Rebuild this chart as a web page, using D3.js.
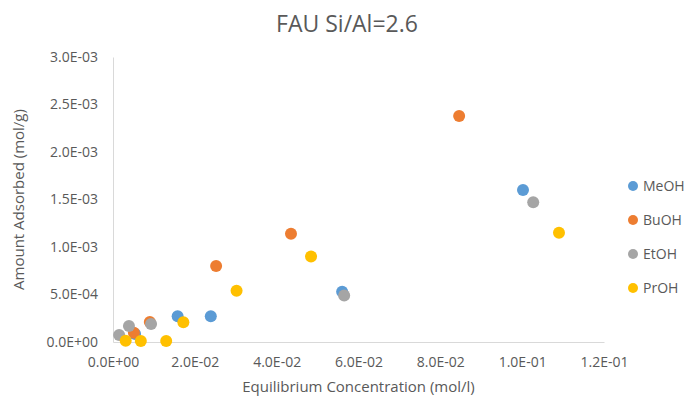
<!DOCTYPE html>
<html>
<head>
<meta charset="utf-8">
<script src="https://cdn.jsdelivr.net/npm/d3@7"></script>
<style>
  body { margin: 0; background: #fff; }
  svg { font-family: "Open Sans", "Noto Sans", sans-serif; }
</style>
</head>
<body>
<div id="chart"></div>
<script>
// series
var seriesNames = ["MeOH", "BuOH", "EtOH", "PrOH"];
var seriesColors = ["#5B9BD5", "#ED7D31", "#A5A5A5", "#FFC000"];

var meohX = [0.0054, 0.0158, 0.0239, 0.0560, 0.1002];
var meohY = [8.4e-5, 2.7e-4, 2.7e-4, 5.3e-4, 1.60e-3];

var buohX = [0.0051, 0.0090, 0.0252, 0.0435, 0.0846];
var buohY = [9.8e-5, 2.1e-4, 8.0e-4, 1.14e-3, 2.38e-3];

var etohX = [0.0015, 0.0039, 0.0093, 0.0565, 0.1027];
var etohY = [7.4e-5, 1.68e-4, 1.9e-4, 4.9e-4, 1.47e-3];

var prohX = [0.0031, 0.0068, 0.0130, 0.0172, 0.0302, 0.0484, 0.1090];
var prohY = [1.4e-5, 1.0e-5, 1.0e-5, 2.07e-4, 5.4e-4, 9.0e-4, 1.15e-3];

var xTicks = [0, 0.02, 0.04, 0.06, 0.08, 0.10, 0.12];
var yTicks = [0, 0.0005, 0.001, 0.0015, 0.002, 0.0025, 0.003];

var allX = [meohX, buohX, etohX, prohX];
var allY = [meohY, buohY, etohY, prohY];

var width = 694, height = 404;
var margin = { top: 57, right: 90, bottom: 62, left: 113 };

// Excel style scientific labels, e.g. 5.0E-04
function sci(v) {
    var s = v.toExponential(1).toUpperCase();
    var parts = s.split("E");
    var sign = parts[1][0];
    var exp = parts[1].slice(1);
    if (exp.length < 2) exp = "0" + exp;
    return parts[0] + "E" + sign + exp;
}

var svg = d3.select("#chart").append("svg")
    .attr("width", width)
    .attr("height", height);

var xScale = d3.scaleLinear()
    .domain([0, 0.12])
    .range([margin.left, width - margin.right]);

var yScale = d3.scaleLinear()
    .domain([0, 0.003])
    .range([height - margin.bottom, margin.top]);

// title
svg.append("text")
    .attr("x", width / 2)
    .attr("y", 32)
    .attr("text-anchor", "middle")
    .attr("font-size", 23)
    .attr("fill", "#595959")
    .text("FAU Si/Al=2.6");

// x axis
var xAxis = svg.append("g")
    .attr("transform", "translate(0," + yScale(0) + ")")
    .call(d3.axisBottom(xScale).tickValues(xTicks).tickFormat(sci).tickSize(0).tickPadding(15));

// y axis
var yAxis = svg.append("g")
    .attr("transform", "translate(" + xScale(0) + ",0)")
    .call(d3.axisLeft(yScale).tickValues(yTicks).tickFormat(sci).tickSize(0).tickPadding(15));

[xAxis, yAxis].forEach(function (ax) {
    ax.select(".domain").attr("stroke", "#D9D9D9").attr("stroke-width", 1);
    ax.selectAll("text")
        .attr("font-size", 14)
        .attr("fill", "#595959")
        .attr("font-family", "\"Open Sans\", sans-serif");
});

// axis titles
svg.append("text")
    .attr("x", (xScale(0) + xScale(0.12)) / 2)
    .attr("y", 392)
    .attr("text-anchor", "middle")
    .attr("font-size", 15)
    .attr("fill", "#595959")
    .text("Equilibrium Concentration (mol/l)");

svg.append("text")
    .attr("transform", "translate(24," + (yScale(0) + yScale(0.003)) / 2 + ") rotate(-90)")
    .attr("text-anchor", "middle")
    .attr("font-size", 15)
    .attr("fill", "#595959")
    .text("Amount Adsorbed (mol/g)");

// points, one group per series (later series drawn on top)
seriesNames.forEach(function (name, i) {
    var pts = allX[i].map(function (x, j) { return { x: x, y: allY[i][j] }; });
    svg.append("g")
        .attr("class", "series " + name)
        .selectAll("circle")
        .data(pts)
        .enter().append("circle")
        .attr("cx", function (d) { return xScale(d.x); })
        .attr("cy", function (d) { return yScale(d.y); })
        .attr("r", 6)
        .attr("fill", seriesColors[i]);
});

// legend
var legend = svg.append("g")
    .selectAll("g")
    .data(seriesNames)
    .enter().append("g")
    .attr("transform", function (d, i) { return "translate(633," + (186 + i * 34) + ")"; });

legend.append("circle")
    .attr("r", 5)
    .attr("fill", function (d, i) { return seriesColors[i]; });

legend.append("text")
    .attr("x", 10)
    .attr("dy", "0.35em")
    .attr("font-size", 14)
    .attr("fill", "#595959")
    .text(function (d) { return d; });
</script>
</body>
</html>
